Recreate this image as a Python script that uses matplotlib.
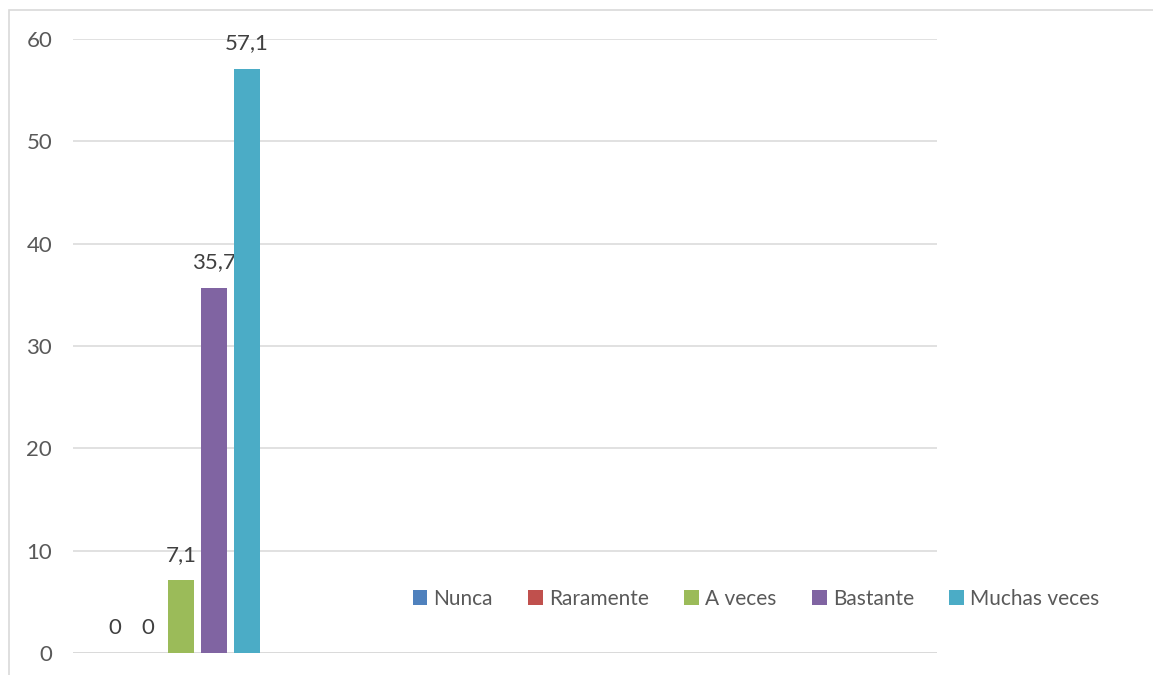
import numpy as np
import matplotlib.pyplot as plt
from matplotlib.patches import Rectangle

# Datos del grafico
series = ["Nunca", "Raramente", "A veces", "Bastante", "Muchas veces"]
valores = [0, 0, 7.1, 35.7, 57.1]
colores = ["#4F81BD", "#C0504D", "#9BBB59", "#8064A2", "#4BACC6"]
etiquetas = ["0", "0", "7,1", "35,7", "57,1"]
yticks = [0, 10, 20, 30, 40, 50, 60]

plt.rcParams['font.family'] = ['Lato', 'DejaVu Sans']
gris = "#595959"

fig = plt.figure(figsize=(11.53, 6.75), dpi=100)
ax = fig.add_axes([73/1153, 1-653/675, (937-73)/1153, (653-39)/675])

x = np.arange(len(series))
barras = []
for i, (nombre, v, c) in enumerate(zip(series, valores, colores)):
    b = ax.bar(x[i], v, width=0.8, color=c, label=nombre, zorder=3)
    barras.append(b)
    ax.annotate(etiquetas[i], (x[i], v), xytext=(0, 11), textcoords="offset points",
                ha="center", va="bottom", fontsize=16, color="#404040")

ax.set_xlim(-1.273, 24.9)
ax.set_ylim(0, 60)
ax.set_yticks(yticks)
ax.set_yticklabels([str(t) for t in yticks])
ax.tick_params(axis='y', length=0, pad=15, labelsize=16, labelcolor=gris)
ax.set_xticks([])
ax.grid(axis='y', color="#d9d9d9", linewidth=1.1, zorder=0)
for s in ax.spines.values():
    s.set_visible(False)
ax.axhline(0, color="#d9d9d9", linewidth=1.1, zorder=2)

fig.legend(handles=[b for b in barras], labels=series, ncol=5, loc="center",
           bbox_to_anchor=(756/1153, 1-599/675), frameon=False, fontsize=15,
           labelcolor=gris, handlelength=0.7, handleheight=0.7, handletextpad=0.3,
           columnspacing=1.7)

# borde del area del grafico
fig.patches.append(Rectangle((9/1153, -0.1), 1.2, 1.1-10/675, transform=fig.transFigure,
                             fill=False, edgecolor="#d9d9d9", linewidth=1.2))

fig.savefig("out.png", dpi=100)
